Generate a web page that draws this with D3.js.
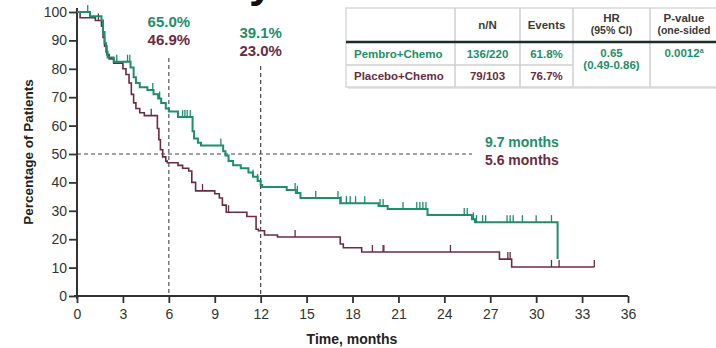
<!DOCTYPE html>
<html>
<head>
<meta charset="utf-8">
<script src="https://cdn.jsdelivr.net/npm/d3@7/dist/d3.min.js"></script>
<style>
  html, body { margin: 0; padding: 0; background: #fff; }
  svg { display: block; font-family: "Liberation Sans", Arial, sans-serif; }
</style>
</head>
<body>
<svg id="chart" width="716" height="348"></svg>
<script>
// Kaplan–Meier steps: [month, survival %] — each entry starts a new level
const pembroSteps = [
  [0, 100], [0.85, 98.5], [1.6, 97], [1.7, 93], [1.8, 89], [1.9, 86], [2.0, 84],
  [2.4, 82.5], [3.5, 80.5], [3.7, 77], [3.85, 75], [4.1, 73.5], [4.6, 72.5],
  [5.0, 71], [5.3, 69.5], [5.5, 68], [5.8, 66], [6.0, 65.0], [6.6, 63],
  [7.55, 58], [7.65, 55.5], [7.9, 54], [8.1, 53], [9.55, 51], [9.7, 49.5],
  [9.9, 47.5], [10.2, 46], [10.7, 45], [11.2, 43.5], [11.5, 42], [11.8, 40.5],
  [12.0, 39.1], [12.1, 38.4], [13.7, 37.3], [14.3, 36.3], [14.6, 34.5],
  [17.2, 32.7], [19.7, 31.7], [20.3, 30.6], [22.9, 28.5], [25.8, 27], [26.0, 26],
  [31.4, 13]
];
const pembroCensored = [
  0.7, 2.6, 3.3, 3.45, 4.95, 5.4, 6.9, 7.05, 7.2, 7.4, 9.4, 11.5, 11.8,
  14.25, 14.4, 15.6, 17.05, 17.25, 17.6, 17.85, 18.2, 18.8, 19.8, 20.0,
  21.3, 22.2, 22.4, 22.6, 22.8, 25.3, 25.5, 25.9, 26.1, 26.5, 26.7,
  28.1, 28.3, 28.5, 29.1, 30.0, 31.0
];

const placeboSteps = [
  [0, 100], [0.2, 98], [1.2, 97], [1.6, 95], [1.7, 91], [1.8, 88], [1.95, 85],
  [2.1, 83.5], [2.4, 82], [3.0, 80], [3.2, 78], [3.4, 75], [3.55, 71],
  [3.7, 68], [3.85, 66], [4.1, 64.5], [4.4, 63.5], [5.25, 59], [5.35, 55],
  [5.45, 51.5], [5.6, 49], [5.8, 47.5], [5.9, 46.9], [6.6, 46], [6.9, 45],
  [7.3, 44], [7.5, 40], [7.75, 37], [9.0, 36], [9.3, 34.5], [9.5, 32],
  [9.75, 29.5], [11.1, 28], [11.7, 23.5], [11.85, 23.0], [12.25, 21.5],
  [13.1, 20.8], [17.2, 18.3], [17.4, 17], [18.6, 15.5], [27.6, 13], [28.4, 10.2]
];
const placeboCensored = [
  1.4, 4.85, 8.2, 9.9, 14.25, 19.3, 20.0, 20.05, 24.4, 28.15, 28.3, 31.0, 31.5, 33.8
];
const placeboEnd = 33.8;

// Landmark rates and medians
const landmarkMonths = [6, 12];
const pembroLandmark = ["65.0%", "39.1%"];
const placeboLandmark = ["46.9%", "23.0%"];
const medianLabels = ["9.7 months", "5.6 months"];

// Axis ticks
const xTicks = d3.range(0, 37, 3);
const yTicks = d3.range(0, 101, 10);

// Summary table
const tableHeaders = [["n/N"], ["Events"], ["HR", "(95% CI)"], ["P-value", "(one-sided"]];
const armNames = ["Pembro+Chemo", "Placebo+Chemo"];
const armNN = ["136/220", "79/103"];
const armEvents = ["61.8%", "76.7%"];
const hrText = ["0.65", "(0.49-0.86)"];
const pText = "0.0012";

const green = "#1d8f69";
const maroon = "#6a2c42";
const ink = "#333";

const svg = d3.select("#chart");
const x = d3.scaleLinear().domain([0, 36]).range([77, 628]);
const y = d3.scaleLinear().domain([0, 100]).range([296, 12]);

// heading sits above the top edge; only the tail of its last glyph shows
svg.append("text").attr("x", 249).attr("y", -3)
  .attr("font-size", 44).attr("font-weight", "bold").attr("fill", "#111")
  .text("y");

// reference dashed lines
const dash = "4,3";
svg.append("line").attr("x1", x(0)).attr("x2", 472).attr("y1", y(50)).attr("y2", y(50))
  .attr("stroke", "#444").attr("stroke-width", 1.2).attr("stroke-dasharray", dash);
svg.append("line").attr("x1", x(6)).attr("x2", x(6)).attr("y1", 58).attr("y2", y(0))
  .attr("stroke", "#555").attr("stroke-width", 1.2).attr("stroke-dasharray", dash);
svg.append("line").attr("x1", x(12)).attr("x2", x(12)).attr("y1", 66).attr("y2", y(0))
  .attr("stroke", "#444").attr("stroke-width", 1.2).attr("stroke-dasharray", dash);

// axes
const xAxis = d3.axisBottom(x).tickValues(xTicks).tickSize(7).tickPadding(6).tickFormat(d3.format("d"));
const gx = svg.append("g").attr("transform", `translate(0,${y(0)})`).call(xAxis);
gx.select(".domain").attr("d", `M${x(0) - 3},0H${x(36)}`).attr("stroke", "#333").attr("stroke-width", 2);
gx.selectAll(".tick line").attr("stroke", "#333").attr("stroke-width", 1.8);
gx.selectAll(".tick text").attr("font-size", 14).attr("fill", ink)
  .attr("font-family", "Liberation Sans, Arial, sans-serif");

const yAxis = d3.axisLeft(y).tickValues(yTicks).tickSize(8).tickPadding(2);
const gy = svg.append("g").attr("transform", `translate(${x(0)},0)`).call(yAxis);
gy.select(".domain").attr("d", `M0,8V${y(0) + 3}`).attr("stroke", "#333").attr("stroke-width", 2);
gy.selectAll(".tick line").attr("stroke", "#333").attr("stroke-width", 1.8);
gy.selectAll(".tick text").attr("font-size", 14).attr("fill", ink)
  .attr("font-family", "Liberation Sans, Arial, sans-serif");

svg.append("text").attr("x", 352).attr("y", 344).attr("text-anchor", "middle")
  .attr("font-size", 14).attr("font-weight", "bold").attr("fill", "#222").text("Time, months");
svg.append("text").attr("transform", "translate(33,152) rotate(-90)").attr("text-anchor", "middle")
  .attr("font-size", 13.5).attr("font-weight", "bold").attr("fill", "#222").text("Percentage of Patients");

// survival curves
const step = d3.line().x(d => x(d[0])).y(d => y(d[1])).curve(d3.curveStepAfter);
function levelAt(steps, t) {
  let v = steps[0][1];
  for (const s of steps) if (s[0] <= t) v = s[1];
  return v;
}
function drawArm(steps, censored, endT, color, width) {
  const pts = steps.slice();
  if (endT != null) pts.push([endT, levelAt(steps, endT)]);
  svg.append("path").datum(pts).attr("d", step)
    .attr("fill", "none").attr("stroke", color).attr("stroke-width", width);
  svg.append("g").selectAll("line").data(censored).join("line")
    .attr("x1", d => x(d)).attr("x2", d => x(d))
    .attr("y1", d => y(levelAt(steps, d)))
    .attr("y2", d => y(levelAt(steps, d)) - 7)
    .attr("stroke", color).attr("stroke-width", 1.3);
}
drawArm(placeboSteps, placeboCensored, placeboEnd, maroon, 1.6);
drawArm(pembroSteps, pembroCensored, null, green, 2);

// landmark labels
const lmY = [[27, 45], [38, 56]];
landmarkMonths.forEach((m, i) => {
  svg.append("text").attr("x", x(m)).attr("y", lmY[i][0]).attr("text-anchor", "middle")
    .attr("font-size", 15).attr("font-weight", "bold").attr("fill", green).text(pembroLandmark[i]);
  svg.append("text").attr("x", x(m)).attr("y", lmY[i][1]).attr("text-anchor", "middle")
    .attr("font-size", 15).attr("font-weight", "bold").attr("fill", maroon).text(placeboLandmark[i]);
});

// median labels
svg.append("text").attr("x", 485).attr("y", 147).attr("font-size", 14).attr("font-weight", "bold")
  .attr("fill", green).text(medianLabels[0]);
svg.append("text").attr("x", 485).attr("y", 165).attr("font-size", 14).attr("font-weight", "bold")
  .attr("fill", maroon).text(medianLabels[1]);

// summary table
const colX = [346, 455, 520, 573, 650, 740];
const rowY = [8, 42, 65, 87];
const tbl = svg.append("g");
tbl.append("rect").attr("x", colX[0] + 2).attr("y", rowY[0] + 2).attr("width", 400).attr("height", rowY[3] - rowY[0])
  .attr("fill", "#e6e6e6");
tbl.append("rect").attr("x", colX[0]).attr("y", rowY[0]).attr("width", 400).attr("height", rowY[3] - rowY[0])
  .attr("fill", "#fff").attr("stroke", "#cfcfcf").attr("stroke-width", 1.2);
colX.slice(1, 5).forEach(cx => {
  tbl.append("line").attr("x1", cx).attr("x2", cx).attr("y1", rowY[0]).attr("y2", rowY[3])
    .attr("stroke", "#cfcfcf").attr("stroke-width", 1.5);
});
tbl.append("line").attr("x1", colX[0]).attr("x2", colX[3]).attr("y1", rowY[2]).attr("y2", rowY[2])
  .attr("stroke", "#cfcfcf").attr("stroke-width", 1.5);
tbl.append("line").attr("x1", colX[0]).attr("x2", 716).attr("y1", rowY[1]).attr("y2", rowY[1])
  .attr("stroke", "#1f2a2a").attr("stroke-width", 2.5);

const cellFont = 11.5;
tableHeaders.forEach((lines, i) => {
  const cx = (colX[i + 1] + colX[i + 2]) / 2;
  const cxAdj = i === 3 ? 684 : cx;
  lines.forEach((t, j) => {
    const yy = lines.length === 1 ? 29 : 22 + j * 12;
    tbl.append("text").attr("x", cxAdj).attr("y", yy).attr("text-anchor", "middle")
      .attr("font-size", j === 0 ? cellFont : 10.5).attr("font-weight", "bold").attr("fill", "#3a3a3a").text(t);
  });
});
const rowColor = [green, maroon];
[0, 1].forEach(r => {
  const yy = (rowY[r + 1] + rowY[r + 2]) / 2 + 4;
  tbl.append("text").attr("x", 354).attr("y", yy).attr("font-size", cellFont).attr("font-weight", "bold")
    .attr("fill", rowColor[r]).text(armNames[r]);
  tbl.append("text").attr("x", (colX[1] + colX[2]) / 2).attr("y", yy).attr("text-anchor", "middle")
    .attr("font-size", cellFont).attr("font-weight", "bold").attr("fill", rowColor[r]).text(armNN[r]);
  tbl.append("text").attr("x", (colX[2] + colX[3]) / 2).attr("y", yy).attr("text-anchor", "middle")
    .attr("font-size", cellFont).attr("font-weight", "bold").attr("fill", rowColor[r]).text(armEvents[r]);
});
tbl.append("text").attr("x", (colX[3] + colX[4]) / 2).attr("y", 57).attr("text-anchor", "middle")
  .attr("font-size", cellFont).attr("font-weight", "bold").attr("fill", green).text(hrText[0]);
tbl.append("text").attr("x", (colX[3] + colX[4]) / 2).attr("y", 69).attr("text-anchor", "middle")
  .attr("font-size", cellFont).attr("font-weight", "bold").attr("fill", green).text(hrText[1]);
const pt = tbl.append("text").attr("x", 684).attr("y", 57).attr("text-anchor", "middle")
  .attr("font-size", cellFont).attr("font-weight", "bold").attr("fill", green);
pt.append("tspan").text(pText);
pt.append("tspan").attr("font-size", 7).attr("dy", -4).text("a");
</script>
</body>
</html>
